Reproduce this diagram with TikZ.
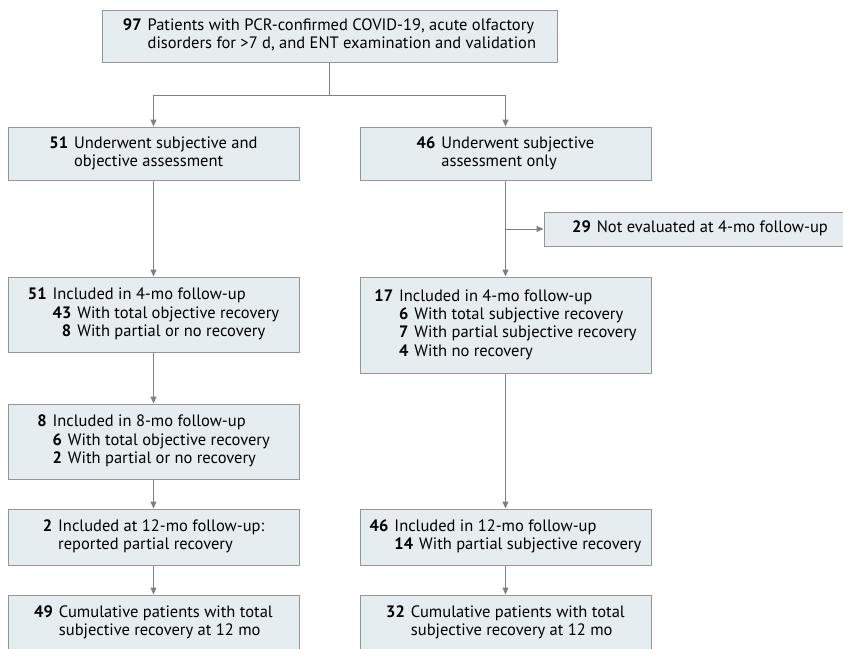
\documentclass[tikz,border=0pt]{standalone}
\usepackage{fontspec}
\setmainfont{PT Sans}
\usetikzlibrary{arrows.meta}

\definecolor{boxfill}{RGB}{230,237,241}
\definecolor{boxline}{RGB}{150,150,150}
\definecolor{flowline}{RGB}{128,128,128}

\newcommand{\nb}[1]{\textbf{#1}}
\newcommand{\headrow}[1]{\multicolumn{2}{@{}l@{}}{#1}}
\newcommand{\onelevel}[1]{\begin{tabular}{@{}r@{\hspace{6pt}}l@{}}#1\end{tabular}}
\newcommand{\twolevel}[1]{\begin{tabular}{@{}r@{\hspace{6pt}}r@{\hspace{6pt}}l@{}}#1\end{tabular}}

\begin{document}
\begin{tikzpicture}[
    x=1pt, y=-1pt,
    stage/.style={
        rectangle,
        draw=boxline,
        fill=boxfill,
        line width=1pt,
        inner sep=0pt,
        minimum width=291pt,
        font=\fontsize{16.5}{18.3}\selectfont
    },
    flow/.style={
        draw=flowline,
        line width=1pt,
        -{Triangle[width=6pt,length=7pt]}
    }
]
\useasboundingbox (0,0) rectangle (843,648);

\node[stage, minimum width=455pt, minimum height=52pt] (total) at (329.5,36) {\onelevel{\nb{97} & Patients with PCR-confirmed COVID-19, acute olfactory\\ & disorders for >7 d, and ENT examination and validation}};

\node[stage, minimum height=53pt] (objA) at (153.5,153.5) {\onelevel{\nb{51} & Underwent subjective and\\ & objective assessment}};
\node[stage, minimum height=53pt] (subjA) at (505.5,153.5) {\onelevel{\nb{46} & Underwent subjective\\ & assessment only}};
\node[stage, minimum width=312pt, minimum height=34pt] (lost) at (700,229) {\onelevel{\nb{29} & Not evaluated at 4-mo follow-up}};

\node[stage, minimum height=75pt] (objB) at (153.5,314.5) {\twolevel{\nb{51} & \headrow{Included in 4-mo follow-up}\\ & \nb{43} & With total objective recovery\\ & \nb{8} & With partial or no recovery}};
\node[stage, minimum height=96pt] (subjB) at (505.5,325) {\twolevel{\nb{17} & \headrow{Included in 4-mo follow-up}\\ & \nb{6} & With total subjective recovery\\ & \nb{7} & With partial subjective recovery\\ & \nb{4} & With no recovery}};

\node[stage, minimum height=75pt] (objC) at (153.5,441.5) {\twolevel{\nb{8} & \headrow{Included in 8-mo follow-up}\\ & \nb{6} & With total objective recovery\\ & \nb{2} & With partial or no recovery}};

\node[stage, minimum height=56pt] (objD) at (153.5,537) {\onelevel{\nb{2} & Included at 12-mo follow-up:\\ & reported partial recovery}};
\node[stage, minimum height=56pt] (subjD) at (505.5,537) {\twolevel{\nb{46} & \headrow{Included in 12-mo follow-up}\\ & \nb{14} & With partial subjective recovery}};

\node[stage, minimum height=56pt] (objE) at (153.5,623) {\onelevel{\nb{49} & Cumulative patients with total\\ & subjective recovery at 12 mo}};
\node[stage, minimum height=56pt] (subjE) at (505.5,623) {\onelevel{\nb{32} & Cumulative patients with total\\ & subjective recovery at 12 mo}};

\draw[flow] (total.south) -- ++(0,33) -| (objA.north);
\draw[flow] (total.south) -- ++(0,33) -| (subjA.north);
\draw[flow] (objA.south) -- (objB.north);
\draw[flow] (subjA.south) -- (subjB.north);
\draw[flow] (subjA.south |- lost.west) -- (lost.west);
\draw[flow] (objB.south) -- (objC.north);
\draw[flow] (objC.south) -- (objD.north);
\draw[flow] (objD.south) -- (objE.north);
\draw[flow] (subjB.south) -- (subjD.north);
\draw[flow] (subjD.south) -- (subjE.north);

\end{tikzpicture}
\end{document}
